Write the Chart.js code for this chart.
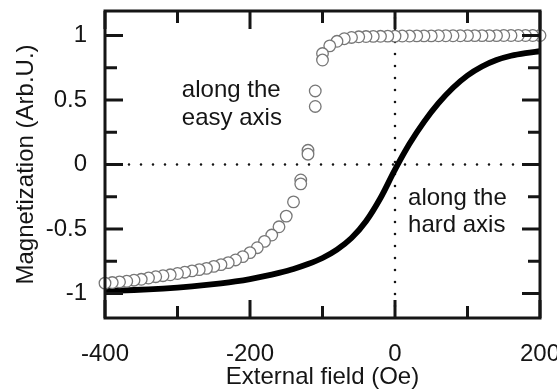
<!DOCTYPE html>
<html>
<head>
<meta charset="utf-8">
<script src="https://cdn.jsdelivr.net/npm/chart.js@4.4.0/dist/chart.umd.min.js"></script>
<style>
  html, body { margin: 0; padding: 0; background: #fff; }
  #wrap { width: 557px; height: 392px; }
</style>
</head>
<body>
<div id="wrap"><canvas id="magChart" width="557" height="392"></canvas></div>
<script>
// easy axis (open circles), field in Oe, magnetization in arb. units
const easyField = [
  -400, -390, -380, -370, -360, -350, -340, -330, -320, -310,
  -300, -290, -280, -270, -260, -250, -240, -230, -220, -210,
  -200, -190, -180, -170, -160, -150, -140, -130, -130, -120,
  -120, -110, -110, -100, -100, -90, -80, -70, -60, -50,
  -40, -30, -20, -10, 0, 10, 20, 30, 40, 50,
  60, 70, 80, 90, 100, 110, 120, 130, 140, 150,
  160, 170, 180, 190, 200
];
const easyMag = [
  -0.92, -0.915, -0.91, -0.905, -0.897, -0.89, -0.88, -0.87, -0.862, -0.855,
  -0.845, -0.835, -0.825, -0.815, -0.805, -0.79, -0.776, -0.761, -0.74, -0.714,
  -0.683, -0.645, -0.596, -0.547, -0.483, -0.40, -0.29, -0.15, -0.12, 0.08,
  0.11, 0.45, 0.57, 0.81, 0.86, 0.92, 0.955, 0.975, 0.985, 0.99,
  0.992, 0.993, 0.994, 0.995, 0.995, 0.996, 0.996, 0.997, 0.997, 0.997,
  0.998, 0.998, 0.998, 0.998, 0.999, 0.999, 0.999, 0.999, 0.999, 1.0,
  1.0, 1.0, 1.0, 1.0, 1.0
];

// hard axis (solid line)
const hardField = [
  -400, -380, -360, -340, -320, -300, -280, -260, -240, -220,
  -200, -180, -160, -140, -120, -100, -80, -60, -40, -20,
  0, 20, 40, 60, 80, 100, 120, 140, 160, 180, 200
];
const hardMag = [
  -0.98, -0.977, -0.973, -0.968, -0.962, -0.954, -0.945, -0.934, -0.921, -0.906,
  -0.888, -0.866, -0.84, -0.81, -0.772, -0.725, -0.66, -0.57, -0.44, -0.26,
  -0.04, 0.16, 0.33, 0.475, 0.595, 0.69, 0.76, 0.81, 0.843, 0.864, 0.878
];

const xRange = [-400, 200];
const yRange = [-1.19, 1.19];
const xTickValues = [-400, -200, 0, 200];
const xMinorTicks = [-300, -100, 100];
const yTickValues = [-1, -0.5, 0, 0.5, 1];
const yMinorTicks = [-0.75, -0.25, 0.25, 0.75];

const easyLabel = ['along the', 'easy axis'];
const easyLabelAt = { x: -294, y: 0.52 };
const hardLabel = ['along the', 'hard axis'];
const hardLabelAt = { x: 18, y: -0.312 };

const FONT = "'Liberation Sans', Arial, Helvetica, sans-serif";
const INK = '#151515';

// easy-axis points are drawn from high field to low field so the left circle sits on top
const easyPoints = easyField.map((f, i) => ({ x: f, y: easyMag[i] })).reverse();
const hardPoints = hardField.map((f, i) => ({ x: f, y: hardMag[i] }));

// frame + inward ticks on all four sides
const framePlugin = {
  id: 'frame',
  afterDatasetsDraw(chart) {
    const { ctx, chartArea: a, scales: { x, y } } = chart;
    ctx.save();
    ctx.strokeStyle = INK;
    ctx.lineWidth = 3;
    ctx.strokeRect(a.left, a.top, a.right - a.left, a.bottom - a.top);
    const tick = (x1, y1, x2, y2) => {
      ctx.beginPath();
      ctx.moveTo(x1, y1);
      ctx.lineTo(x2, y2);
      ctx.stroke();
    };
    const major = 18, minor = 12;
    xTickValues.concat(xMinorTicks).forEach(v => {
      const px = x.getPixelForValue(v);
      const len = xTickValues.includes(v) ? major : minor;
      tick(px, a.bottom, px, a.bottom - len);
      tick(px, a.top, px, a.top + len);
    });
    yTickValues.concat(yMinorTicks).forEach(v => {
      const py = y.getPixelForValue(v);
      const len = yTickValues.includes(v) ? major : minor;
      tick(a.left, py, a.left + len, py);
      tick(a.right, py, a.right - len, py);
    });
    ctx.restore();
  },
  afterDraw(chart) {
    const { ctx, scales: { x, y } } = chart;
    ctx.save();
    ctx.fillStyle = INK;
    ctx.font = '24px ' + FONT;
    ctx.textAlign = 'left';
    ctx.textBaseline = 'alphabetic';
    [[easyLabel, easyLabelAt], [hardLabel, hardLabelAt]].forEach(([lines, at]) => {
      const px = x.getPixelForValue(at.x);
      const py = y.getPixelForValue(at.y);
      lines.forEach((t, i) => ctx.fillText(t, px, py + i * 27.4));
    });
    ctx.restore();
  }
};

const ctx = document.getElementById('magChart').getContext('2d');
new Chart(ctx, {
  type: 'scatter',
  data: {
    datasets: [
      {
        label: 'easy axis',
        data: easyPoints,
        showLine: false,
        pointRadius: 5.8,
        pointBorderWidth: 1.3,
        pointBorderColor: '#777777',
        pointBackgroundColor: '#ffffff',
        clip: false,
        order: 0
      },
      {
        label: 'hard axis',
        data: hardPoints,
        showLine: true,
        borderColor: '#000',
        borderWidth: 5.8,
        pointRadius: 0,
        cubicInterpolationMode: 'monotone',
        order: 1
      },
      {
        label: 'zero field',
        data: [{ x: 0, y: yRange[0] }, { x: 0, y: yRange[1] }],
        showLine: true,
        borderColor: INK,
        borderWidth: 2.6,
        borderDash: [0, 12],
        borderCapStyle: 'round',
        pointRadius: 0,
        order: 2
      },
      {
        label: 'zero magnetization',
        data: [{ x: xRange[0], y: 0 }, { x: xRange[1], y: 0 }],
        showLine: true,
        borderColor: INK,
        borderWidth: 2.6,
        borderDash: [0, 12],
        borderCapStyle: 'round',
        pointRadius: 0,
        order: 2
      }
    ]
  },
  options: {
    responsive: false,
    animation: false,
    layout: { padding: { top: 11, right: 17, left: 0, bottom: 0 } },
    plugins: {
      legend: { display: false },
      tooltip: { enabled: false }
    },
    scales: {
      x: {
        type: 'linear',
        min: xRange[0],
        max: xRange[1],
        grid: { display: false, drawTicks: false },
        border: { display: false },
        afterBuildTicks: s => { s.ticks = xTickValues.map(v => ({ value: v })); },
        afterFit: s => { s.height = 74; s.paddingLeft = 0; s.paddingRight = 0; },
        ticks: {
          color: INK,
          padding: 22,
          font: { family: FONT, size: 24 },
          maxRotation: 0,
          callback: v => String(v)
        },
        title: {
          display: true,
          text: 'External field (Oe)',
          color: INK,
          font: { family: FONT, size: 24 },
          padding: { top: 0, bottom: 0 }
        }
      },
      y: {
        type: 'linear',
        min: yRange[0],
        max: yRange[1],
        grid: { display: false, drawTicks: false },
        border: { display: false },
        afterBuildTicks: s => { s.ticks = yTickValues.map(v => ({ value: v })); },
        afterFit: s => { s.width = 105; s.paddingTop = 0; s.paddingBottom = 0; },
        ticks: {
          color: INK,
          padding: 18,
          font: { family: FONT, size: 24 },
          callback: v => String(v)
        },
        title: {
          display: true,
          text: 'Magnetization (Arb.U.)',
          color: INK,
          font: { family: FONT, size: 24 },
          padding: { top: 12, bottom: 0 }
        }
      }
    }
  },
  plugins: [framePlugin]
});
</script>
</body>
</html>
